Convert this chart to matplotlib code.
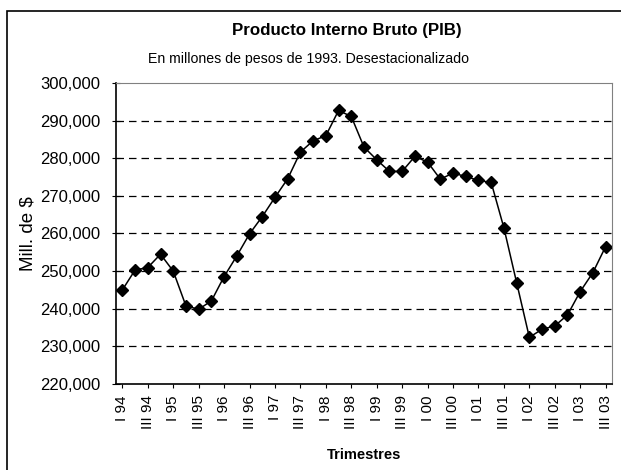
import matplotlib.pyplot as plt
from matplotlib.patches import Rectangle
from matplotlib.ticker import FuncFormatter

plt.rcParams['font.family'] = ['Liberation Sans', 'DejaVu Sans']

# PIB trimestral, millones de pesos de 1993 (desestacionalizado)
years = ['94', '95', '96', '97', '98', '99', '00', '01', '02', '03']
quarters = ['I', 'II', 'III', 'IV']
periods = [q + ' ' + y for y in years for q in quarters][:39]

pib = [245000, 250300, 250950, 254500, 250000, 240750, 239860, 242080,
       248550, 254050, 259900, 264500, 269600, 274550, 281640, 284650,
       285990, 292700, 291100, 282970, 279600, 276500, 276500, 280490,
       278980, 274450, 276050, 275160, 274100, 273570, 261500, 246960,
       232410, 234540, 235430, 238350, 244560, 249620, 256540]

fig = plt.figure(figsize=(6.21, 4.70), dpi=100)
ax = fig.add_axes([116 / 621, 1 - 384 / 470, 496 / 621, 301 / 470])

x = list(range(len(pib)))
ax.plot(x, pib, color='black', linewidth=1.1, marker='D', markersize=6.5,
        markerfacecolor='black', markeredgecolor='black')

ax.set_ylim(220000, 300000)
ax.set_xlim(-0.5, len(pib) - 0.5)
ax.set_yticks(range(220000, 300001, 10000))
ax.yaxis.set_major_formatter(FuncFormatter(lambda v, p: '{:,.0f}'.format(v)))
for yv in range(230000, 300000, 10000):
    ax.axhline(yv, color='black', linestyle=(0, (6, 4)), linewidth=0.9, zorder=0)

ax.set_xticks(x[::2])
ax.set_xticklabels(periods[::2], rotation=90, fontsize=11)
ax.tick_params(axis='y', direction='inout', length=6, labelsize=12, pad=8)
ax.tick_params(axis='x', direction='out', length=3, pad=5)

for side in ['top', 'right']:
    ax.spines[side].set_color('#808080')
ax.spines['left'].set_linewidth(1.2)
ax.spines['bottom'].set_linewidth(1.2)

ax.set_ylabel('Mill. de $', fontsize=13.5, labelpad=3)

fig.text(364 / 621, 1 - 455 / 470, 'Trimestres', ha='center', va='center',
         fontsize=10.5, fontweight='bold')
fig.text(347 / 621, 1 - 31 / 470, 'Producto Interno Bruto (PIB)',
         ha='center', va='center', fontsize=12.2, fontweight='bold')
fig.text(309 / 621, 1 - 59 / 470, 'En millones de pesos de 1993. Desestacionalizado',
         ha='center', va='center', fontsize=10.2)

# marco exterior
fig.patches.append(Rectangle((7 / 621, -0.05), 1.0, 1 - 11 / 470 + 0.05,
                             transform=fig.transFigure, fill=False,
                             edgecolor='black', linewidth=1.2))

fig.savefig('out.png', dpi=100)
